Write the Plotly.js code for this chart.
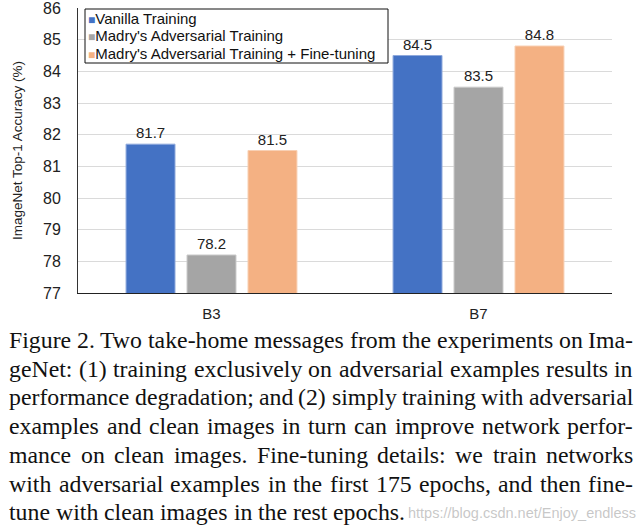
<!DOCTYPE html>
<html>
<head>
<meta charset="utf-8">
<script src="https://cdn.plot.ly/plotly-3.0.1.min.js"></script>
<style>html,body{margin:0;padding:0;background:#fff;}#chart{width:638px;height:530px;}</style>
</head>
<body>
<div id="chart"></div>
<script>
const categories = ["B3", "B7"];
const vanilla = [81.7, 84.5];
const madry = [78.2, 83.5];
const madryFT = [81.5, 84.8];
const seriesNames = ["Vanilla Training", "Madry's Adversarial Training", "Madry's Adversarial Training + Fine-tuning"];
const captionLines = [
  "Figure 2. Two take-home messages from the experiments on Ima-",
  "geNet: (1) training exclusively on adversarial examples results in",
  "performance degradation; and (2) simply training with adversarial",
  "examples and clean images in turn can improve network perfor-",
  "mance on clean images.  Fine-tuning details:  we train networks",
  "with adversarial examples in the first 175 epochs, and then fine-",
  "tune with clean images in the rest epochs."
];
const watermark = "https://blog.csdn.net/Enjoy_endless";

const colors = ["#4472C4", "#A5A5A5", "#F4B183"];
const edge = ["#8FA9DC", "#C9C9C9", "#F8D0B4"];
const W = 638, H = 530;
const M = {l: 78, r: 26, t: 8, b: 237};
const PW = W - M.l - M.r, PH = H - M.t - M.b;
const toPX = px => (px - M.l) / PW;
const toPY = py => (H - M.b - py) / PH;

const traces = [vanilla, madry, madryFT].map((vals, i) => ({
  type: 'bar', x: categories, y: vals, name: seriesNames[i],
  marker: {color: colors[i], line: {color: edge[i], width: 1}},
  text: vals.map(v => v.toFixed(1)), textposition: 'outside',
  textfont: {family: 'Liberation Sans, Arial', size: 15, color: '#222'},
  cliponaxis: false, hoverinfo: 'none', showlegend: false
}));

const annotations = [];
const shapes = [];

// custom compact legend
const legL = 85, legR = 388, legT = 9, legB = 63;
shapes.push({type: 'rect', xref: 'paper', yref: 'paper',
  x0: toPX(legL), x1: toPX(legR), y0: toPY(legB), y1: toPY(legT),
  line: {color: '#111', width: 1}, fillcolor: '#fff', layer: 'above'});
seriesNames.forEach((nm, i) => {
  annotations.push({text: '<span style="color:' + colors[i] + ';font-size:12px">■</span>' + nm,
    xref: 'paper', yref: 'paper', x: toPX(legL + 2), y: toPY(18 + i * 18),
    xanchor: 'left', yanchor: 'middle', showarrow: false, borderpad: 0,
    font: {family: 'Liberation Sans, Arial', size: 15, color: '#111'}});
});

// caption annotations (justified per word)
const capFont = "Liberation Serif";
const capSize = 23.8;
const cv = document.createElement('canvas').getContext('2d');
cv.font = capSize + "px '" + capFont + "'";
const leftPx = 8, rightPx = 632;
captionLines.forEach((line, li) => {
  const words = line.split(/\s+/);
  const widths = words.map(w => cv.measureText(w).width);
  const total = widths.reduce((a, b) => a + b, 0);
  const last = li === captionLines.length - 1;
  const gap = last ? cv.measureText(' ').width : (rightPx - leftPx - total) / (words.length - 1);
  let x = leftPx;
  const y = 340 + li * 28.7;
  words.forEach((w, wi) => {
    annotations.push({text: w, xref: 'paper', yref: 'paper', x: toPX(x), y: toPY(y),
      xanchor: 'left', yanchor: 'middle', showarrow: false, borderpad: 0,
      font: {family: capFont, size: capSize, color: '#111'}});
    x += widths[wi] + gap;
  });
});
annotations.push({text: watermark, xref: 'paper', yref: 'paper', x: toPX(637), y: toPY(513),
  xanchor: 'right', yanchor: 'middle', showarrow: false, borderpad: 0,
  font: {family: 'Liberation Sans, Arial', size: 14.5, color: 'rgba(175,175,175,0.7)'}});

const layout = {
  width: W, height: H, margin: M,
  paper_bgcolor: '#fff', plot_bgcolor: '#fff',
  barmode: 'group', bargap: 0.315, bargroupgap: 0.197,
  showlegend: false,
  xaxis: {type: 'category', showline: true, linecolor: '#222', linewidth: 1,
    ticks: '', ticklabelstandoff: 7,
    tickfont: {family: 'Liberation Sans, Arial', size: 15, color: '#222'}},
  yaxis: {range: [77, 86], tickvals: [77,78,79,80,81,82,83,84,85,86], showline: true, linecolor: '#333', linewidth: 1,
    gridcolor: '#DADADA', zeroline: false, ticks: '', ticklabelstandoff: 13,
    ticklabeloverflow: 'allow',
    tickfont: {family: 'Liberation Sans, Arial', size: 16, color: '#222'},
    title: {text: 'ImageNet Top-1 Accuracy (%)', standoff: 17,
      font: {family: 'Liberation Sans, Arial', size: 13.5, color: '#222'}}},
  shapes: shapes,
  annotations: annotations
};
Plotly.newPlot('chart', traces, layout, {displayModeBar: false, staticPlot: true});
</script>
</body>
</html>
